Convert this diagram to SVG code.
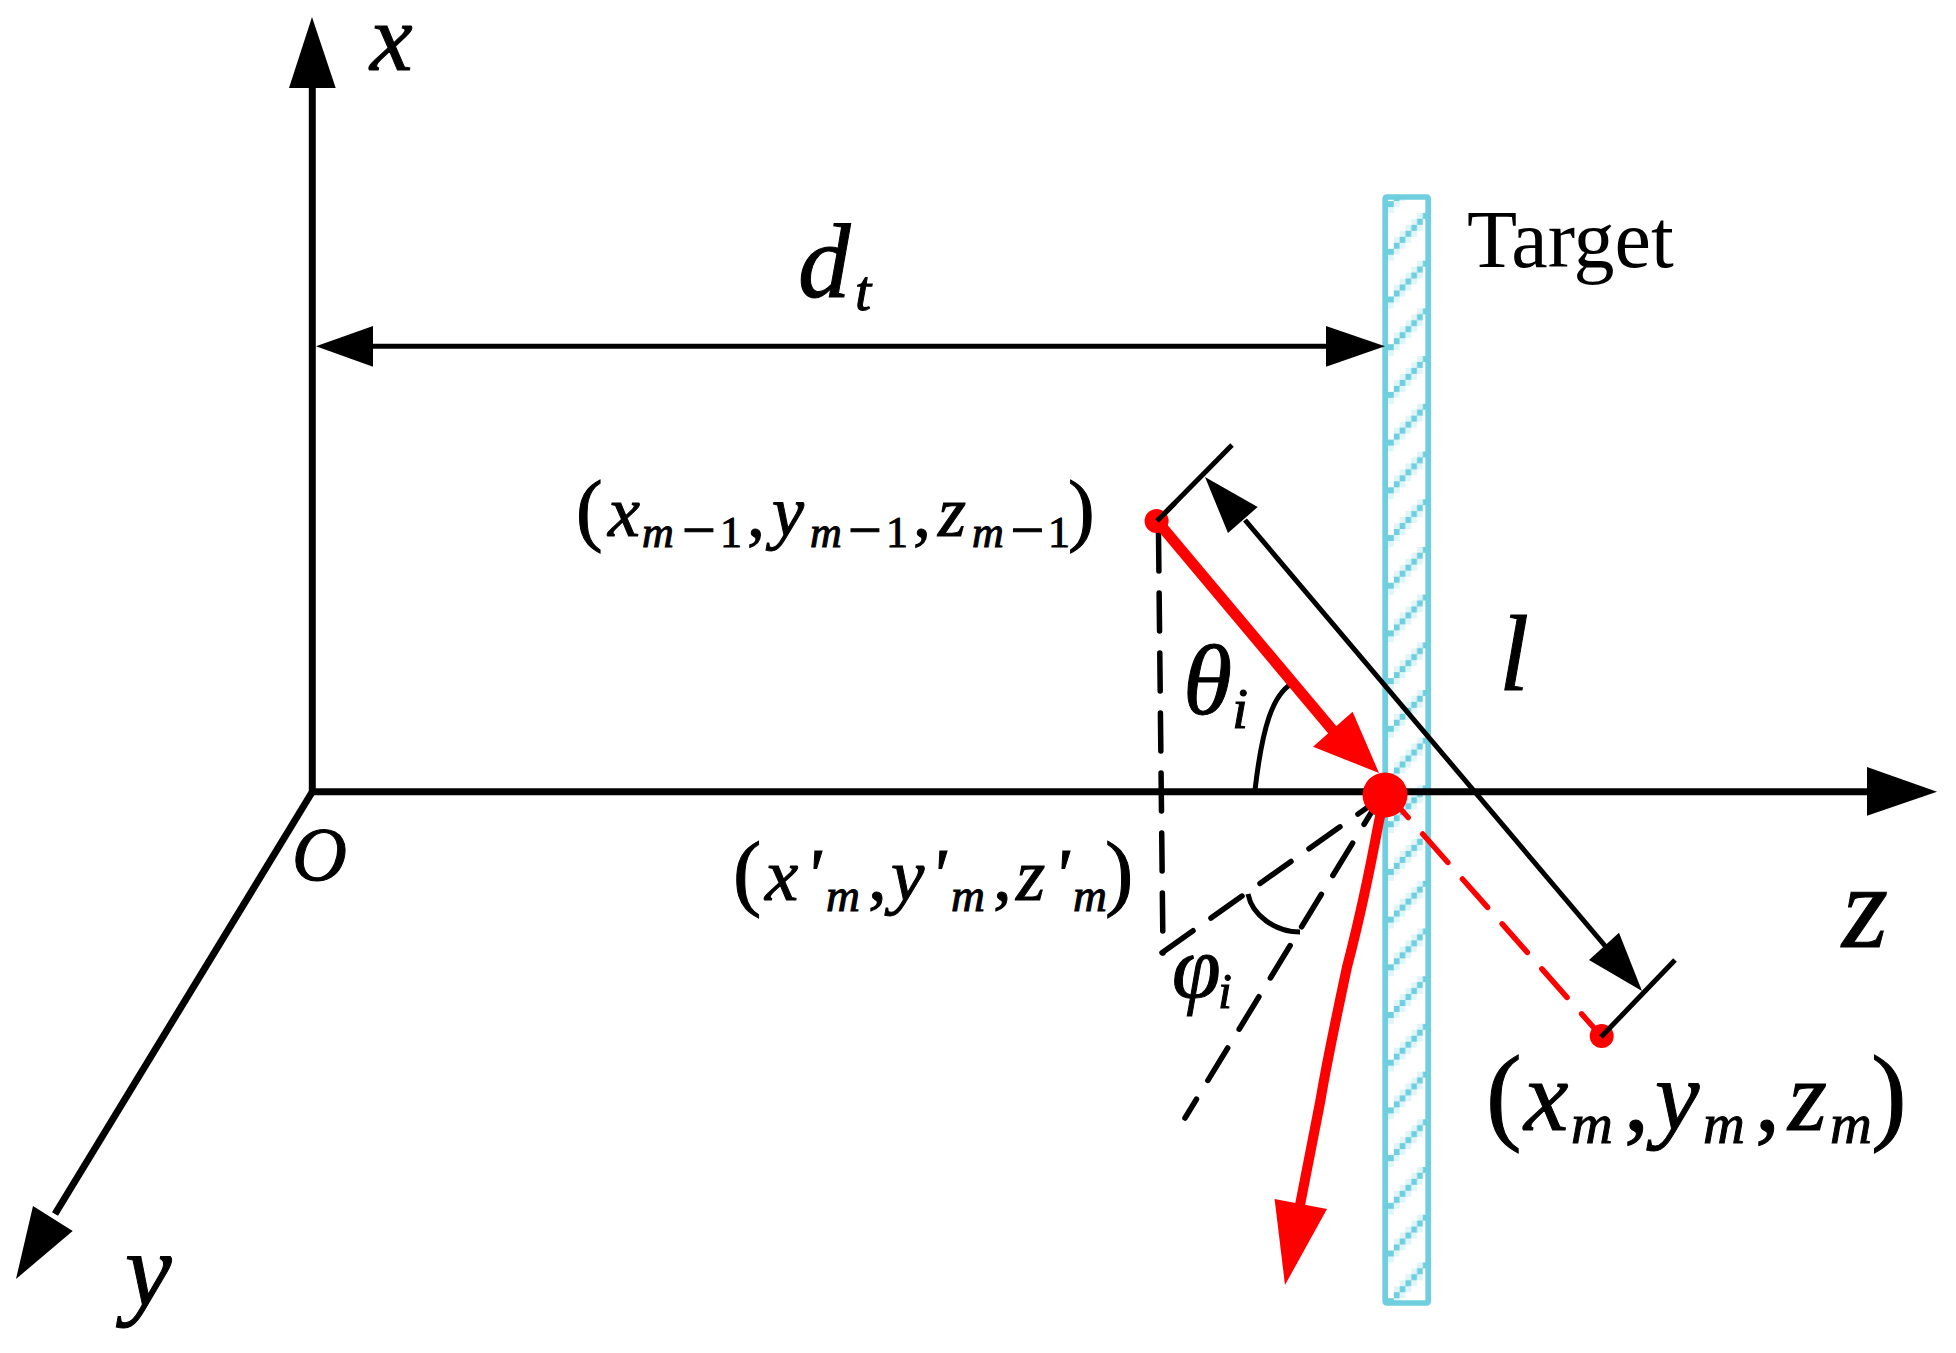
<svg xmlns="http://www.w3.org/2000/svg" width="1956" height="1353" viewBox="0 0 1956 1353">
<style>
text{font-family:"Liberation Serif","Times New Roman",serif;fill:#000}
.i{font-style:italic;stroke:#000;stroke-width:1;}
.n{font-style:normal}
.ax{fill:none;stroke:#000;stroke-width:7}
.thin{fill:none;stroke:#000;stroke-width:5}
.dash{fill:none;stroke:#000;stroke-width:5.5;stroke-dasharray:38 22;stroke-linecap:round}
.rd{fill:none;stroke:#f00;stroke-width:5.5;stroke-dasharray:38 22;stroke-linecap:round}
.r{fill:#f00}
.k{fill:#000}
</style>
<defs>
<pattern id="hatch" patternUnits="userSpaceOnUse" x="1388" y="213" width="40.6" height="47.7">
<g fill="#e1f5f8">
<rect x="0" y="41.7" width="5.8" height="6"/><rect x="5.8" y="35.8" width="5.8" height="6"/><rect x="11.6" y="29.8" width="5.8" height="6"/><rect x="17.4" y="23.8" width="5.8" height="6"/><rect x="23.2" y="17.8" width="5.8" height="6"/><rect x="29" y="11.8" width="5.8" height="6"/>
<rect x="5.8" y="23.8" width="5.8" height="6"/><rect x="11.6" y="17.8" width="5.8" height="6"/><rect x="17.4" y="11.8" width="5.8" height="6"/><rect x="23.2" y="5.8" width="5.8" height="6"/><rect x="29" y="0" width="5.8" height="6"/>
</g>
<g fill="#6fcfdf">
<rect x="0" y="35.8" width="5.8" height="6"/><rect x="5.8" y="29.8" width="5.8" height="6"/><rect x="11.6" y="23.8" width="5.8" height="6"/><rect x="17.4" y="17.8" width="5.8" height="6"/><rect x="23.2" y="11.8" width="5.8" height="6"/><rect x="29" y="5.8" width="5.8" height="6"/><rect x="34.8" y="0" width="5.8" height="6"/>
</g>
</pattern>
</defs>
<rect width="1956" height="1353" fill="#fff"/>
<g id="target">
<rect x="1385.2" y="197" width="43" height="1106" rx="1.5" fill="url(#hatch)" stroke="#6fcfdf" stroke-width="5.7"/>
<text x="1467" y="267" font-size="82">Target</text>
</g>
<g id="connectors">
<line class="ax" x1="312.3" y1="795" x2="312.3" y2="85"/>
<polygon class="k" points="312,17 335.7,88 289,88"/>
<line class="ax" x1="309" y1="791.7" x2="1870" y2="791.7"/>
<polygon class="k" points="1937,791.7 1867,767 1867,815.7"/>
<line class="ax" x1="314" y1="789" x2="55" y2="1214"/>
<polygon class="k" points="16,1279 33,1206 72.7,1231"/>
<line class="thin" x1="370" y1="346.3" x2="1330" y2="346.3"/>
<polygon class="k" points="316,346.3 373,326 373,366.7"/>
<polygon class="k" points="1385,346.3 1326,326 1326,366.7"/>
<line class="dash" x1="1158.5" y1="533" x2="1163" y2="953"/>
<line class="dash" x1="1162" y1="952.7" x2="1385" y2="795"/>
<line class="dash" x1="1185" y1="1118" x2="1385" y2="790" stroke-dashoffset="16"/>
<path class="thin" d="M1255 790C1262 730 1272 692 1295 682"/>
<path class="thin" d="M1248 894C1252 915 1275 932 1300 932"/>
<line class="thin" x1="1245" y1="520" x2="1606" y2="947"/>
<polygon class="k" points="1205,477 1257.7,507 1228,533"/>
<polygon class="k" points="1642,991 1619,932.7 1589,960"/>
<line class="thin" x1="1157" y1="521" x2="1232" y2="445"/>
<line class="rd" x1="1383" y1="789" x2="1602" y2="1037"/>
<line x1="1157" y1="521" x2="1335" y2="733" stroke="#f00" stroke-width="11"/>
<polygon class="r" points="1379,773 1352.6,711.7 1313,746.7"/>
<path d="M1385 795L1378.6 823C1368 880 1358 925 1347 967C1338 1010 1328 1055 1320.5 1100L1300 1205" fill="none" stroke="#f00" stroke-width="10"/>
<polygon class="r" points="1285,1285 1274.6,1199 1327,1209"/>
</g>
<g id="point-prev">
<circle class="r" cx="1156.6" cy="521" r="12"/>
<line x1="1157" y1="521" x2="1175" y2="503" stroke="#000" stroke-width="5"/>
<text y="536" font-size="72" class="i"><tspan class="n" x="576" font-size="80">(</tspan><tspan x="608">x</tspan><tspan x="642" y="546.7" font-size="44">m</tspan><tspan class="n" x="682" y="550" font-size="60">−</tspan><tspan class="n" x="720" y="546.7" font-size="44">1</tspan><tspan class="n" x="747" y="536">,</tspan><tspan x="772">y</tspan><tspan x="810" y="546.7" font-size="44">m</tspan><tspan class="n" x="848" y="550" font-size="60">−</tspan><tspan class="n" x="886" y="546.7" font-size="44">1</tspan><tspan class="n" x="913" y="536">,</tspan><tspan x="938">z</tspan><tspan x="972" y="546.7" font-size="44">m</tspan><tspan class="n" x="1010.5" y="550" font-size="60">−</tspan><tspan class="n" x="1048" y="546.7" font-size="44">1</tspan><tspan class="n" x="1068" y="536" font-size="80">)</tspan></text>
</g>
<g id="point-hit">
<circle class="r" cx="1385" cy="795" r="22.5"/>
<text y="900" font-size="75" class="i"><tspan class="n" x="733" font-size="85">(</tspan><tspan x="765">x</tspan><tspan x="805">'</tspan><tspan x="826" y="910.7" font-size="47">m</tspan><tspan class="n" x="868" y="900">,</tspan><tspan x="891">y</tspan><tspan x="930">'</tspan><tspan x="951" y="910.7" font-size="47">m</tspan><tspan class="n" x="993" y="900">,</tspan><tspan x="1016">z</tspan><tspan x="1053">'</tspan><tspan x="1073" y="910.7" font-size="47">m</tspan><tspan class="n" x="1105" y="900" font-size="85">)</tspan></text>
</g>
<g id="point-current">
<circle class="r" cx="1601.7" cy="1036" r="12"/>
<line x1="1601" y1="1037" x2="1675" y2="960" stroke="#000" stroke-width="5"/>
<text y="1130" font-size="100" class="i"><tspan class="n" x="1486" font-size="107">(</tspan><tspan x="1524">x</tspan><tspan x="1571" y="1143" font-size="58">m</tspan><tspan class="n" x="1624" y="1130">,</tspan><tspan x="1655">y</tspan><tspan x="1703" y="1143" font-size="58">m</tspan><tspan class="n" x="1755" y="1130">,</tspan><tspan x="1788">z</tspan><tspan x="1830" y="1143" font-size="58">m</tspan><tspan class="n" x="1871" y="1130" font-size="107">)</tspan></text>
</g>
<g id="labels">
<text class="i" x="370" y="70" font-size="96">x</text>
<text class="i" x="125" y="1305" font-size="105">y</text>
<text class="i" x="1842" y="947" font-size="118">z</text>
<text class="i" x="292" y="880" font-size="76">O</text>
<text class="i" x="798" y="296.7" font-size="105">d<tspan x="855" y="310" font-size="58">t</tspan></text>
<text class="i" x="1499" y="690" font-size="108">l</text>
<text class="i" x="1183" y="714" font-size="100">θ<tspan x="1232" y="728" font-size="58">i</tspan></text>
<text class="i" x="1172" y="997" font-size="88">φ<tspan x="1218" y="1008" font-size="50">i</tspan></text>
</g>
</svg>
